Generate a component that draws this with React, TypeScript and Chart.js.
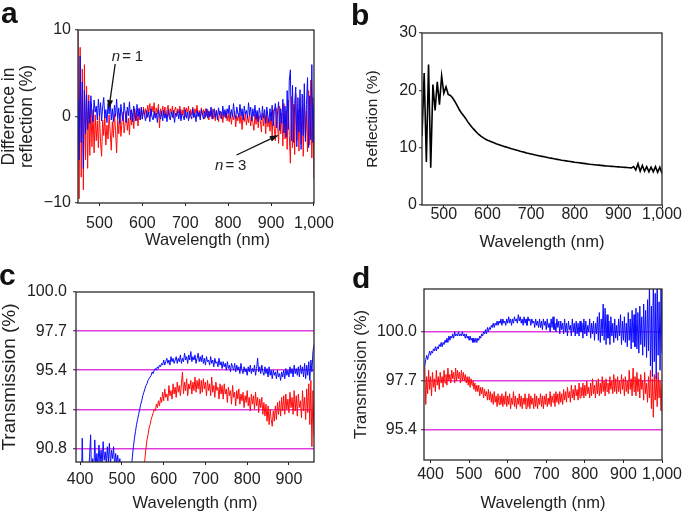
import React, { useEffect, useRef } from 'react';
import { Chart, registerables } from 'chart.js';

Chart.register(...registerables);

const FONT = "'Liberation Sans', Arial, Helvetica, sans-serif";
const INK = '#222';
const MAGENTA = '#e03ce0';
const BLUE = '#0a0aff';
const RED = '#ff0a0a';

// ---------- Panel a: difference in reflection (%), 450–1000 nm, 2.5 nm step ----------
const A_START = 450;
const A_STEP = 2.5;
const A_N1 = [
  2, -5, 7, -3, 4, -6, 3, -2, 2.5, -1.5, 1.8, -0.8, 2.4, 0.2, -0.6, 1.9, 0.5, 1.2, -0.4, 2.0,
  0.1, 1.6, -0.5, 1.1, 2.2, -0.2, 0.8, -0.7, 1.5, 0.3, 1.8, -0.4, 0.9, -0.6, 1.3, 0.0, 2.0, -0.3, 1.0, -0.8,
  1.4, 0.2, -0.5, 1.6, 0.4, -0.7, 1.1, 0.1, 1.7, -0.4, 0.8, -0.6, 1.2, 0.3, -0.5, 1.4, 0.0, 0.9, -0.4, 1.1,
  -0.3, 0.8, 0.1, -0.5, 0.7, -0.1, 0.5, -0.6, 0.9, 0.0, -0.4, 0.6, -0.2, 0.4, -0.7, 0.8, 0.1, -0.3, 0.6, -0.5,
  0.7, -0.2, 0.3, -0.6, 0.8, 0.0, -0.4, 0.5, -0.1, 0.7, -0.7, 0.4, 0.0, 0.6, -0.3, 0.8, -0.5, 0.3, 0.1, -0.4,
  0.8, -0.2, 0.5, -0.5, 0.6, 0.1, -0.3, 0.9, -0.1, 0.4, -0.6, 0.7, 0.0, 0.5, -0.4, 0.8, 0.2, -0.3, 0.6, -0.1,
  0.9, -0.2, 0.6, 0.0, 1.1, -0.3, 0.5, 0.9, -0.1, 0.7, -0.4, 1.0, 0.2, 0.6, -0.3, 1.2, 0.1, 0.8, -0.2, 0.9,
  0.3, 1.3, -0.2, 0.8, 0.0, 1.5, 0.2, -0.3, 1.1, 0.4, -0.1, 1.4, 0.1, 0.9, -0.4, 1.2, 0.3, 0.7, -0.2, 1.6,
  0.2, 1.1, -0.5, 0.9, 0.0, 1.3, -0.3, 0.7, -0.6, 1.0, 0.2, -0.4, 1.2, -0.2, 0.8, -0.8, 1.1, 0.1, -0.7, 0.9,
  -0.5, 1.3, -1.1, 0.6, 1.5, -1.3, 0.4, 1.7, -1.6, 0.9, -0.8, 2.0, -1.9, 1.2, -2.4, 3.0, -1.5, 4.2, 5.4, -2.8,
  3.6, -3.0, 1.5, 3.4, -3.5, 2.2, -1.8, 3.1, -3.8, 2.6, -2.2, 3.8, -2.9, 1.4, 4.5, -3.6, 2.4, -2.7, 6.0, -3.0,
  1.5,
];
const A_N3 = [
  10.5, -9.5, 8, -7, 5.5, -8.5, 6, -5, 3.5, -6, 2.5, -4.5, 1.5, -3.5, 0.8, -4.2, 0.2, -2.8, -0.5, -3.6,
  0.3, -2.9, -4.6, -0.4, -2.2, 0.1, -3.3, -1.0, -2.6, 0.2, -1.8, -3.9, -0.6, -2.4, 0.3, -1.6, -4.2, -0.3, -2.0, 0.4,
  -2.3, -0.6, 0.5, -1.9, -0.8, 0.6, -1.6, -0.2, -2.1, 0.7, -1.0, 0.4, -1.4, 0.9, -0.5, 0.3, -1.1, 1.0, -0.4, 0.8,
  -0.3, 1.1, 0.2, 0.9, -0.2, 1.3, 0.4, 1.5, 0.0, 1.2, 0.5, 1.6, -0.1, 1.0, 0.3, 1.4, -1.3, 0.9, 0.1, 1.2,
  0.2, 1.1, -0.1, 0.8, 1.3, 0.0, 0.9, 0.3, 1.2, -0.2, 0.7, 1.1, 0.1, 0.9, 0.4, 1.2, -0.1, 0.8, 0.2, 1.1,
  0.0, 1.0, 0.3, 1.2, -0.2, 0.8, 0.2, 1.1, -0.1, 0.9, 0.4, 1.3, 0.0, 0.7, -0.2, 1.0, 0.2, 0.8, -0.3, 0.9,
  0.1, 0.8, -0.4, 0.6, 0.0, 0.9, -0.3, 0.5, -0.5, 0.7, 0.1, -0.6, 0.6, -0.2, 0.5, -0.7, 0.4, -0.1, 0.6, -0.5,
  0.3, -0.6, 0.5, -0.9, 0.2, -0.4, 0.6, -1.2, 0.1, -0.5, 0.4, -0.8, 0.2, -1.5, 0.3, -0.6, 0.5, -1.0, 0.0, -0.7,
  0.4, -1.1, 0.2, -0.7, -1.6, 0.3, -0.9, 0.5, -1.3, 0.1, -0.5, -1.8, 0.4, -1.1, 0.2, -2.0, 0.6, -1.2, -0.3, -1.7,
  0.5, -2.3, 0.8, -1.4, -2.8, 1.0, -0.9, -3.1, 1.2, -2.0, 0.4, -3.4, 1.5, -2.6, 0.7, -3.8, 1.9, -2.2, -5.4, 2.3,
  -3.6, 1.4, -4.4, 2.6, -2.8, 0.8, -4.0, 2.1, -3.2, 1.0, -4.6, 2.4, -2.5, 0.6, -4.1, 3.0, -3.3, 4.2, -4.8, 2.2,
  -7.2,
];
const A_XTICKS = [500, 600, 700, 800, 900, 1000];
const A_YTICKS = [-10, 0, 10];

// ---------- Panel b: reflection (%), 450–1000 nm, 5 nm step ----------
const B_START = 450;
const B_STEP = 5;
const B_REFL = [
  12, 23, 7.5, 24.5, 6.5, 21, 16.5, 21.5, 17.5, 22.5,
  19.5, 20.6, 19.3, 19.1, 18.7, 18.1, 17.4, 16.7, 16.1, 15.6,
  15.1, 14.5, 14.0, 13.5, 13.1, 12.7, 12.3, 12.0, 11.75, 11.5,
  11.3, 11.15, 11.0, 10.85, 10.7, 10.57, 10.44, 10.31, 10.18, 10.06,
  9.94, 9.82, 9.71, 9.6, 9.49, 9.38, 9.28, 9.18, 9.08, 8.99,
  8.9, 8.81, 8.72, 8.64, 8.56, 8.48, 8.4, 8.32, 8.24, 8.17,
  8.1, 8.03, 7.96, 7.89, 7.82, 7.76, 7.7, 7.64, 7.58, 7.52,
  7.46, 7.41, 7.36, 7.31, 7.26, 7.21, 7.16, 7.11, 7.07, 7.03,
  6.99, 6.95, 6.91, 6.87, 6.83, 6.8, 6.77, 6.74, 6.71, 6.68,
  6.65, 6.62, 6.59, 6.56, 6.53, 6.5, 6.47, 6.7, 6.1, 7.2,
  5.9, 6.9, 5.9, 6.7, 5.8, 6.6, 5.8, 6.7, 5.7, 6.6,
  5.5,
];
const B_XTICKS = [500, 600, 700, 800, 900, 1000];
const B_YTICKS = [0, 10, 20, 30];

// ---------- Panel c: transmission (%), 390–960 nm, 2.5 nm step ----------
const C_START = 390;
const C_STEP = 2.5;
const C_BLUE = [
  88.0, 88.6, 89.1, 88.4, 88.9, 88.2, 91.4, 88.5, 89.3, 88.7, 89.6, 88.9, 89.4, 90.3, 91.6, 89.0, 90.2, 89.3, 91.3, 89.6,
  90.5, 89.7, 91.0, 89.9, 90.7, 89.8, 91.2, 90.1, 90.6, 89.9, 90.9, 90.0, 91.1, 89.8, 90.7, 90.2, 90.9, 89.7, 90.5, 89.9,
  90.4, 89.6, 90.2, 89.5, 89.8, 89.0, 88.6, 88.0, 87.5, 87.2, 87.4, 88.0, 88.8, 89.6, 90.3, 90.9, 91.4, 91.8, 92.2, 92.5,
  92.8, 93.1, 93.4, 93.6, 93.9, 94.1, 94.3, 94.5, 94.6, 94.8, 94.9, 95.0, 95.1, 95.3, 95.2, 95.4, 95.5, 95.4, 95.6, 95.5,
  95.7, 95.6, 95.8, 95.7, 96.0, 95.7, 95.9, 96.1, 95.8, 96.0, 95.7, 96.2, 95.9, 96.1, 95.8, 96.0, 96.2, 95.8, 96.1, 95.9,
  96.3, 95.8, 96.1, 95.9, 96.4, 96.0, 96.2, 95.8, 96.3, 96.0, 96.5, 95.9, 96.2, 96.0, 96.3, 95.8, 96.1, 96.4, 95.9, 96.2,
  95.9, 96.3, 95.8, 96.1, 95.7, 96.2, 95.9, 96.0, 95.7, 96.2, 95.8, 96.0, 95.6, 96.1, 95.8, 95.9, 95.6, 96.1, 95.7, 95.9,
  95.5, 95.9, 95.6, 95.8, 95.4, 95.9, 95.5, 95.7, 95.3, 95.8, 95.6, 95.4, 95.8, 95.3, 95.7, 95.4, 95.6, 95.2, 95.8, 95.4,
  95.2, 95.6, 95.3, 95.5, 95.1, 95.6, 95.3, 95.7, 95.2, 95.5, 95.3, 95.7, 95.1, 95.5, 96.1, 95.3, 95.6, 95.2, 95.7, 95.3,
  95.1, 95.6, 95.2, 95.5, 95.0, 95.6, 95.1, 95.4, 94.9, 95.4, 95.1, 95.3, 94.9, 95.4, 95.0, 95.2, 94.8, 95.3, 95.0, 95.4,
  94.9, 95.5, 95.1, 95.4, 95.0, 95.6, 95.2, 95.5, 95.0, 95.7, 95.2, 95.5, 95.1, 95.6, 95.0, 95.7, 95.2, 95.6, 95.0, 95.8,
  94.9, 95.7, 95.1, 95.9, 94.8, 96.0, 95.3, 96.5, 96.9,
];
const C_RED = [
  null, null, null, null, null, null, null, null, null, null, null, null, null, null, null, null, null, null, null, null,
  null, null, null, null, null, null, null, null, null, null, null, null, null, null, null, null, null, null, null, null,
  null, null, null, null, null, null, null, null, null, null, null, null, null, null, null, null, null, null, null, null,
  null, null, null, null, 88.6, 89.4, 90.2, 90.8, 91.3, 91.6, 92.0, 92.2, 92.5, 92.7, 92.9, 93.1, 93.0, 93.4, 93.2, 93.6,
  93.3, 93.8, 93.5, 94.1, 93.6, 94.3, 93.8, 94.0, 93.6, 94.5, 93.9, 94.2, 93.7, 94.6, 94.0, 94.4, 93.8, 94.7, 94.1, 94.5,
  93.9, 94.6, 95.3, 94.0, 94.7, 94.2, 94.9, 93.9, 94.6, 94.3, 94.8, 94.0, 94.7, 94.2, 95.0, 94.1, 94.8, 94.3, 94.9, 94.0,
  94.8, 94.1, 94.9, 94.3, 94.7, 93.9, 94.8, 94.2, 94.6, 93.9, 95.0, 94.1, 94.5, 93.8, 94.7, 94.2, 94.4, 93.7, 94.6, 94.0,
  94.5, 93.7, 94.6, 94.0, 94.3, 93.5, 94.4, 93.9, 94.2, 93.4, 94.5, 93.8, 94.1, 93.3, 94.2, 93.7, 94.3, 93.4, 94.0, 93.6,
  94.1, 93.2, 93.9, 93.5, 94.2, 93.3, 93.8, 93.0, 94.0, 93.4, 93.9, 93.1, 94.1, 93.3, 93.8, 92.9, 93.7, 93.2, 93.8, 92.8,
  93.5, 92.7, 93.4, 92.4, 93.3, 92.2, 93.1, 92.5, 92.1, 93.0, 92.4, 93.3, 92.5, 93.5, 92.8, 93.6, 92.7, 93.8, 93.0, 93.9,
  92.8, 94.0, 93.1, 93.7, 92.9, 94.1, 93.2, 93.8, 92.8, 94.2, 93.0, 93.9, 92.7, 94.0, 93.2, 93.6, 92.6, 94.2, 93.0, 93.8,
  92.5, 94.3, 92.9, 94.6, 92.2, 94.8, 90.9, 94.2, 91.5,
];
const C_XTICKS = [400, 500, 600, 700, 800, 900];
const C_YTICKS = [90.8, 93.1, 95.4, 97.7, 100.0];

// ---------- Panel d: transmission (%), 385–1000 nm, 2.5 nm step ----------
const D_START = 385;
const D_STEP = 2.5;
const D_BLUE = [
  98.4, 98.7, 98.9, 98.7, 98.9, 99.1, 98.9, 99.1, 99.0, 99.2, 99.1, 99.3, 99.1, 99.3, 99.2, 99.4, 99.3, 99.5, 99.3, 99.5,
  99.4, 99.6, 99.5, 99.7, 99.5, 99.8, 99.6, 99.8, 99.7, 99.9, 99.7, 100.0, 99.8, 99.9, 99.8, 100.0, 99.8, 99.9, 99.8, 100.0,
  99.8, 99.9, 99.7, 99.9, 99.7, 99.8, 99.6, 99.8, 99.6, 99.7, 99.5, 99.7, 99.5, 99.7, 99.5, 99.7, 99.6, 99.8, 99.7, 99.9,
  99.8, 100.0, 99.9, 100.1, 99.9, 100.2, 100.0, 100.2, 100.1, 100.3, 100.2, 100.4, 100.2, 100.4, 100.3, 100.5, 100.3, 100.5, 100.4, 100.6,
  100.3, 100.6, 100.4, 100.5, 100.3, 100.6, 100.4, 100.7, 100.4, 100.6, 100.3, 100.6, 100.4, 100.7, 100.5, 100.6, 100.4, 100.8, 100.5, 100.7,
  100.4, 100.6, 100.3, 100.7, 100.4, 100.6, 100.3, 100.7, 100.5, 100.6, 100.3, 100.6, 100.4, 100.5, 100.2, 100.6, 100.3, 100.5, 100.2, 100.6,
  100.2, 100.5, 100.1, 100.6, 100.3, 100.5, 100.1, 100.6, 100.2, 100.4, 100.0, 100.6, 100.2, 100.7, 100.1, 100.4, 100.0, 100.6, 100.2, 100.5,
  99.9, 100.5, 100.1, 100.4, 99.9, 100.6, 100.0, 100.4, 99.8, 100.5, 100.1, 100.3, 99.8, 100.6, 100.0, 100.4, 99.8, 100.5, 99.9, 100.4,
  99.8, 100.5, 100.0, 100.4, 99.7, 100.6, 99.9, 100.5, 99.8, 100.3, 100.0, 100.6, 99.7, 100.4, 99.9, 100.5, 99.6, 100.4, 99.9, 100.7,
  99.6, 100.9, 99.5, 100.6, 99.8, 101.3, 99.6, 101.1, 99.4, 100.8, 99.7, 100.5, 99.4, 100.7, 99.8, 100.4, 99.5, 100.6, 99.7, 100.3,
  99.6, 100.6, 99.8, 100.8, 99.4, 100.5, 99.6, 100.7, 99.5, 100.4, 99.3, 100.9, 99.6, 100.6, 99.2, 101.0, 99.5, 100.8, 99.3, 101.1,
  99.2, 100.9, 99.0, 101.2, 99.4, 100.7, 98.9, 101.3, 99.3, 101.0, 98.8, 101.5, 99.1, 102.3, 98.4, 101.2, 97.9, 102.6, 98.6, 101.8,
  97.8, 102.4, 98.9, 101.4, 98.2, 102.2, 99.0,
];
const D_RED = [
  98.4, 96.6, 97.9, 97.1, 98.2, 97.3, 97.9, 97.0, 98.1, 97.4, 97.8, 97.2, 98.2, 97.5, 97.9, 97.3, 98.1, 97.6, 97.9, 97.4,
  98.2, 97.6, 98.0, 97.5, 98.3, 97.7, 98.0, 97.6, 98.2, 97.8, 98.1, 97.6, 98.3, 97.7, 98.2, 97.8, 98.1, 97.6, 98.2, 97.7,
  98.1, 97.7, 98.0, 97.6, 97.9, 97.5, 97.9, 97.4, 97.8, 97.5, 97.7, 97.3, 97.6, 97.2, 97.5, 97.2, 97.5, 97.0, 97.4, 97.1,
  97.4, 96.9, 97.3, 97.0, 97.2, 96.8, 97.3, 96.8, 97.2, 96.7, 97.1, 96.6, 97.2, 96.7, 97.0, 96.5, 97.1, 96.6, 97.0, 96.6,
  97.1, 96.5, 97.0, 96.6, 97.2, 96.5, 97.0, 96.6, 97.1, 96.4, 96.9, 96.6, 97.2, 96.5, 97.0, 96.4, 96.9, 96.6, 97.1, 96.5,
  97.0, 96.4, 96.9, 96.6, 97.1, 96.4, 96.9, 96.5, 97.1, 96.4, 97.0, 96.6, 96.9, 96.4, 97.1, 96.5, 97.0, 96.4, 96.9, 96.6,
  97.1, 96.5, 97.0, 96.4, 97.0, 96.6, 97.1, 96.5, 96.9, 96.6, 97.2, 96.5, 97.0, 96.7, 97.1, 96.5, 97.2, 96.7, 97.1, 96.6,
  97.2, 96.7, 97.1, 96.6, 97.3, 96.8, 97.2, 96.7, 97.4, 96.9, 97.2, 96.7, 97.5, 96.9, 97.3, 96.8, 97.5, 97.0, 97.3, 96.8,
  97.6, 96.9, 97.4, 97.0, 97.6, 96.9, 97.5, 97.0, 97.7, 97.1, 97.4, 96.9, 97.6, 97.0, 97.8, 97.1, 97.5, 96.9, 97.7, 97.1,
  97.8, 97.0, 97.6, 97.1, 97.9, 97.2, 97.7, 97.0, 97.8, 97.2, 97.6, 97.1, 97.9, 97.3, 97.7, 97.1, 98.0, 97.2, 97.8, 97.1,
  97.9, 97.2, 97.7, 97.1, 98.0, 97.3, 97.8, 97.0, 97.9, 97.2, 97.7, 97.1, 98.2, 97.3, 97.8, 97.0, 98.3, 97.2, 97.9, 97.0,
  98.1, 97.2, 97.8, 96.9, 98.0, 97.3, 97.7, 96.8, 98.1, 97.1, 97.6, 96.7, 97.9, 96.9, 98.2, 96.4, 97.8, 96.0, 98.0, 96.8,
  97.9, 96.5, 98.1, 96.9, 97.7, 96.3, 97.6,
];
const D_XTICKS = [400, 500, 600, 700, 800, 900, 1000];
const D_YTICKS = [95.4, 97.7, 100.0];

// ---------- Annotations in panel a (data units) ----------
const A_LABELS = [
  { at: [528.7, 6.9], num: '1' },
  { at: [769.5, -5.72], num: '3' },
];
const A_ARROWS = [
  { from: [536.7, 6.07], to: [521.9, 0.87] },
  { from: [819.7, -4.45], to: [917.8, -2.14] },
];

// ---------- helpers ----------
function toPoints(start: number, step: number, vals: (number | null)[]) {
  return vals.map((v, i) => ({ x: start + i * step, y: v }));
}

const framePlugin = {
  id: 'frame',
  afterDatasetsDraw(chart: any) {
    const { ctx, chartArea: a } = chart;
    ctx.save();
    ctx.strokeStyle = '#2a2a2a';
    ctx.lineWidth = 1.3;
    ctx.strokeRect(a.left, a.top, a.right - a.left, a.bottom - a.top);
    ctx.restore();
  },
};

function drawArrow(ctx: CanvasRenderingContext2D, x1: number, y1: number, x2: number, y2: number) {
  const ang = Math.atan2(y2 - y1, x2 - x1);
  const len = 9;
  const hw = 3;
  const bx = x2 - Math.cos(ang) * len;
  const by = y2 - Math.sin(ang) * len;
  ctx.beginPath();
  ctx.moveTo(x1, y1);
  ctx.lineTo(bx, by);
  ctx.stroke();
  ctx.beginPath();
  ctx.moveTo(x2, y2);
  ctx.lineTo(bx - Math.sin(ang) * hw, by + Math.cos(ang) * hw);
  ctx.lineTo(bx + Math.sin(ang) * hw, by - Math.cos(ang) * hw);
  ctx.closePath();
  ctx.fill();
}

const annotPlugin = {
  id: 'annot',
  afterDatasetsDraw(chart: any) {
    const { ctx } = chart;
    const xs = chart.scales.x;
    const ys = chart.scales.y;
    ctx.save();
    ctx.strokeStyle = '#111';
    ctx.fillStyle = '#111';
    ctx.lineWidth = 1.3;
    for (const a of A_ARROWS) {
      drawArrow(ctx, xs.getPixelForValue(a.from[0]), ys.getPixelForValue(a.from[1]),
        xs.getPixelForValue(a.to[0]), ys.getPixelForValue(a.to[1]));
    }
    ctx.textBaseline = 'middle';
    ctx.textAlign = 'left';
    for (const l of A_LABELS) {
      const px = xs.getPixelForValue(l.at[0]);
      const py = ys.getPixelForValue(l.at[1]);
      ctx.fillStyle = INK;
      ctx.font = `italic 15px ${FONT}`;
      ctx.fillText('n', px, py);
      ctx.font = `15px ${FONT}`;
      ctx.fillText('=', px + 10.5, py);
      ctx.fillText(l.num, px + 23, py);
    }
    ctx.restore();
  },
};

type Spec = {
  left: number; top: number; width: number; height: number;
  plot: { l: number; r: number; t: number; b: number };
  xMin: number; xMax: number; xTicks: number[];
  yMin: number; yMax: number; yTicks: number[];
  yFmt: (v: number) => string;
  series: { points: any[]; color: string; width: number }[];
  magenta: boolean;
  yTitle: string | string[]; yTitleSize: number; yTitleLH: number; yTitlePad: number;
  xTitle: string; xTitlePad: number;
  xTickPad: number; yTickPad: number;
  extra?: any[];
};

function buildConfig(s: Spec): any {
  const tickFont = { family: FONT, size: 16 };
  return {
    type: 'line',
    data: {
      datasets: s.series.map((d) => ({
        data: d.points,
        borderColor: d.color,
        borderWidth: d.width,
        pointRadius: 0,
        fill: false,
        tension: 0,
        spanGaps: false,
      })),
    },
    options: {
      responsive: false,
      animation: false,
      events: [],
      layout: { padding: { left: 0, top: s.plot.t, right: s.width - s.plot.r, bottom: 0 } },
      plugins: { legend: { display: false }, tooltip: { enabled: false } },
      scales: {
        x: {
          type: 'linear',
          min: s.xMin,
          max: s.xMax,
          afterBuildTicks: (sc: any) => { sc.ticks = s.xTicks.map((v) => ({ value: v })); },
          afterFit: (sc: any) => { sc.height = s.height - s.plot.b; },
          border: { display: false },
          grid: { display: true, drawOnChartArea: false, drawTicks: true, tickLength: 3, tickColor: INK, tickWidth: 1 },
          ticks: {
            color: INK, font: tickFont, padding: s.xTickPad, maxRotation: 0, autoSkip: false,
            callback: (v: any) => Number(v).toLocaleString('en-US'),
          },
          title: {
            display: true, text: s.xTitle, color: INK,
            font: { family: FONT, size: 16.5, lineHeight: 1.2 },
            padding: { top: 0, bottom: s.xTitlePad },
          },
        },
        y: {
          type: 'linear',
          min: s.yMin,
          max: s.yMax,
          afterBuildTicks: (sc: any) => { sc.ticks = s.yTicks.map((v) => ({ value: v })); },
          afterFit: (sc: any) => { sc.width = s.plot.l; },
          border: { display: false },
          grid: {
            display: true,
            drawOnChartArea: s.magenta,
            drawTicks: true,
            tickLength: 3,
            tickColor: INK,
            tickWidth: 1,
            lineWidth: 1.5,
            color: (c: any) => (c.tick && Math.abs(c.tick.value - s.yMax) < 1e-6 ? 'rgba(0,0,0,0)' : MAGENTA),
          },
          ticks: {
            color: INK, font: tickFont, padding: s.yTickPad, autoSkip: false,
            callback: (v: any) => s.yFmt(Number(v)),
          },
          title: {
            display: true, text: s.yTitle, color: INK,
            font: { family: FONT, size: s.yTitleSize, lineHeight: s.yTitleLH },
            padding: { top: s.yTitlePad, bottom: 0 },
          },
        },
      },
    },
    plugins: [framePlugin, ...(s.extra || [])],
  };
}

const signed = (v: number) => (v < 0 ? '\u2212' + Math.abs(v) : String(v));
const oneDec = (v: number) => v.toFixed(1);

const SPEC_A: Spec = {
  left: 0, top: 0, width: 342, height: 256,
  plot: { l: 78, r: 319, t: 30, b: 203 },
  xMin: 450, xMax: 1000, xTicks: A_XTICKS,
  yMin: -10, yMax: 10, yTicks: A_YTICKS, yFmt: signed,
  series: [
    { points: toPoints(A_START, A_STEP, A_N1), color: BLUE, width: 1 },
    { points: toPoints(A_START, A_STEP, A_N3), color: RED, width: 1 },
  ],
  magenta: false,
  yTitle: ['Difference in', 'reflection (%)'], yTitleSize: 17.5, yTitleLH: 1.03, yTitlePad: 0,
  xTitle: '     Wavelength (nm)', xTitlePad: 6,
  xTickPad: 8, yTickPad: 4,
  extra: [annotPlugin],
};

const SPEC_B: Spec = {
  left: 342, top: 0, width: 343, height: 256,
  plot: { l: 80, r: 320, t: 33, b: 205 },
  xMin: 450, xMax: 1000, xTicks: B_XTICKS,
  yMin: 0, yMax: 30, yTicks: B_YTICKS, yFmt: (v) => String(v),
  series: [{ points: toPoints(B_START, B_STEP, B_REFL), color: '#000', width: 1.6 }],
  magenta: false,
  yTitle: 'Reflection (%)', yTitleSize: 15.5, yTitleLH: 1.2, yTitlePad: 21,
  xTitle: 'Wavelength (nm)', xTitlePad: 4,
  xTickPad: -3, yTickPad: 2,
};

const SPEC_C: Spec = {
  left: 0, top: 256, width: 342, height: 257,
  plot: { l: 76, r: 314, t: 36, b: 206 },
  xMin: 390, xMax: 960, xTicks: C_XTICKS,
  yMin: 90, yMax: 100, yTicks: C_YTICKS, yFmt: oneDec,
  series: [
    { points: toPoints(C_START, C_STEP, C_BLUE), color: BLUE, width: 1 },
    { points: toPoints(C_START, C_STEP, C_RED), color: RED, width: 1 },
  ],
  magenta: true,
  yTitle: 'Transmission (%)', yTitleSize: 19, yTitleLH: 1.0, yTitlePad: 0.5,
  xTitle: 'Wavelength (nm)', xTitlePad: 0,
  xTickPad: 5, yTickPad: 6,
};

const SPEC_D: Spec = {
  left: 342, top: 256, width: 343, height: 257,
  plot: { l: 82, r: 320, t: 33, b: 204 },
  xMin: 383, xMax: 1000, xTicks: D_XTICKS,
  yMin: 94, yMax: 102, yTicks: D_YTICKS, yFmt: oneDec,
  series: [
    { points: toPoints(D_START, D_STEP, D_BLUE), color: BLUE, width: 1 },
    { points: toPoints(D_START, D_STEP, D_RED), color: RED, width: 1 },
  ],
  magenta: true,
  yTitle: 'Transmission (%)', yTitleSize: 16.7, yTitleLH: 1.2, yTitlePad: 9,
  xTitle: 'Wavelength (nm)', xTitlePad: 0,
  xTickPad: 1.5, yTickPad: 4,
};

function Panel({ spec }: { spec: Spec }) {
  const ref = useRef<HTMLCanvasElement>(null);
  useEffect(() => {
    const chart = new Chart(ref.current as HTMLCanvasElement, buildConfig(spec));
    return () => chart.destroy();
  }, [spec]);
  return (
    <canvas
      ref={ref}
      width={spec.width}
      height={spec.height}
      style={{ position: 'absolute', left: spec.left, top: spec.top, width: spec.width, height: spec.height }}
    />
  );
}

const PANEL_LABELS = [
  { t: 'a', left: 1, top: -2 },
  { t: 'b', left: 351, top: 0 },
  { t: 'c', left: -1, top: 260 },
  { t: 'd', left: 352, top: 263 },
];

export default function App() {
  return (
    <div style={{ position: 'fixed', left: 0, top: 0, width: 685, height: 513, background: '#fff', overflow: 'hidden' }}>
      <Panel spec={SPEC_A} />
      <Panel spec={SPEC_B} />
      <Panel spec={SPEC_C} />
      <Panel spec={SPEC_D} />
      {PANEL_LABELS.map((p) => (
        <div
          key={p.t}
          style={{
            position: 'absolute', left: p.left, top: p.top, fontFamily: FONT, fontWeight: 700,
            fontSize: 30, lineHeight: '30px', color: '#111',
          }}
        >
          {p.t}
        </div>
      ))}
    </div>
  );
}
